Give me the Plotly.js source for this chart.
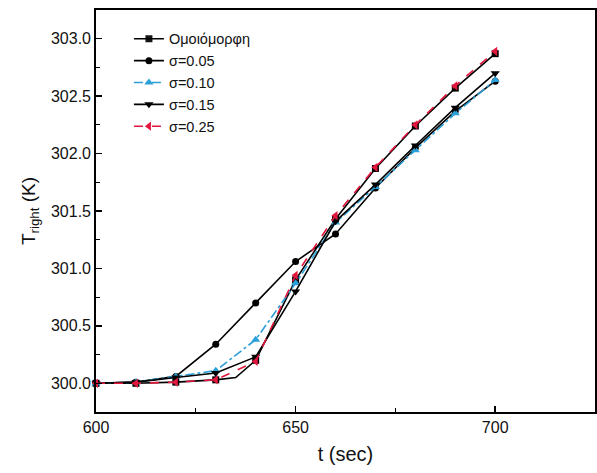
<!DOCTYPE html>
<html>
<head>
<meta charset="utf-8">
<script src="https://cdn.plot.ly/plotly-3.0.1.min.js"></script>
<style>html,body{margin:0;padding:0;background:#fff;}#chart{width:597px;height:473px;}</style>
</head>
<body>
<div id="chart"></div>
<script>
const tUniform = [600, 610, 620, 630, 635, 640, 650, 660, 670, 680, 690, 700];
const uniformVals = [300.00, 300.00, 300.01, 300.03, 300.05, 300.20, 300.90, 301.43, 301.87, 302.24, 302.57, 302.87];
const uniformMarkerShown = [1, 1, 1, 1, 0, 1, 1, 1, 1, 1, 1, 1];

const t = [600, 610, 620, 630, 640, 650, 660, 670, 680, 690, 700];
const sigma005 = [300.00, 300.01, 300.06, 300.34, 300.70, 301.06, 301.30, 301.70, 302.05, 302.37, 302.63];
const sigma010 = [300.00, 300.01, 300.06, 300.11, 300.38, 300.87, 301.40, 301.71, 302.03, 302.35, 302.64];
const sigma015 = [300.00, 300.01, 300.05, 300.09, 300.23, 300.80, 301.41, 301.73, 302.07, 302.40, 302.70];
const sigma025 = [300.00, 300.00, 300.01, 300.03, 300.19, 300.94, 301.46, 301.88, 302.25, 302.59, 302.89];

const names = ['Ομοιόμορφη', 'σ=0.05', 'σ=0.10', 'σ=0.15', 'σ=0.25'];

const red = '#e3173e';
const blue = '#2a9fd8';

const traces = [
  {x: tUniform, y: uniformVals, name: names[0], mode: 'lines+markers', cliponaxis: false,
   line: {color: '#000', width: 1.6}, marker: {symbol: 'square', size: 7, color: '#000', opacity: uniformMarkerShown}},
  {x: t, y: sigma005, name: names[1], mode: 'lines+markers', cliponaxis: false,
   line: {color: '#000', width: 1.6}, marker: {symbol: 'circle', size: 7, color: '#000'}},
  {x: t, y: sigma010, name: names[2], mode: 'lines+markers', cliponaxis: false,
   line: {color: blue, width: 1.6, dash: 'dashdot'}, marker: {symbol: 'triangle-up', size: 8, color: blue}},
  {x: t, y: sigma015, name: names[3], mode: 'lines+markers', cliponaxis: false,
   line: {color: '#000', width: 1.6}, marker: {symbol: 'triangle-down', size: 8, color: '#000'}},
  {x: t, y: sigma025, name: names[4], mode: 'lines+markers', cliponaxis: false,
   line: {color: red, width: 1.6, dash: 'dash'}, marker: {symbol: 'triangle-left', size: 8, color: red}}
];

const font = 'Liberation Sans, Arial, sans-serif';

const layout = {
  width: 597, height: 473,
  margin: {l: 96, r: 2, t: 10, b: 61},
  paper_bgcolor: '#fff', plot_bgcolor: '#fff',
  showlegend: true,
  legend: {x: 0.066, y: 0.968, xanchor: 'left', yanchor: 'top',
           bgcolor: 'rgba(0,0,0,0)', borderwidth: 0,
           font: {family: font, size: 14.5, color: '#111'}, tracegroupgap: 0},
  xaxis: {
    range: [600, 725], dtick: 50, tick0: 600,
    ticks: 'inside', ticklen: 6, tickwidth: 1.5, tickcolor: '#000',
    minor: {dtick: 25, ticks: 'inside', ticklen: 4, tickwidth: 1.2, tickcolor: '#000'},
    showline: true, mirror: true, linecolor: '#000', linewidth: 1.8,
    showgrid: false, zeroline: false,
    tickfont: {family: font, size: 16, color: '#111'},
    title: {text: 't (sec)', font: {family: font, size: 20, color: '#111'}, standoff: 12}
  },
  yaxis: {
    range: [299.75, 303.25], dtick: 0.5, tick0: 300, tickformat: '.1f',
    ticks: 'inside', ticklen: 6, tickwidth: 1.5, tickcolor: '#000',
    minor: {dtick: 0.25, ticks: 'inside', ticklen: 4, tickwidth: 1.2, tickcolor: '#000'},
    showline: true, mirror: true, linecolor: '#000', linewidth: 1.8,
    showgrid: false, zeroline: false,
    tickfont: {family: font, size: 16, color: '#111'},
    title: {text: 'T<sub>right</sub> (K)', font: {family: font, size: 19, color: '#111'}, standoff: 10}
  }
};

Plotly.newPlot('chart', traces, layout, {displayModeBar: false, staticPlot: true});
</script>
</body>
</html>
